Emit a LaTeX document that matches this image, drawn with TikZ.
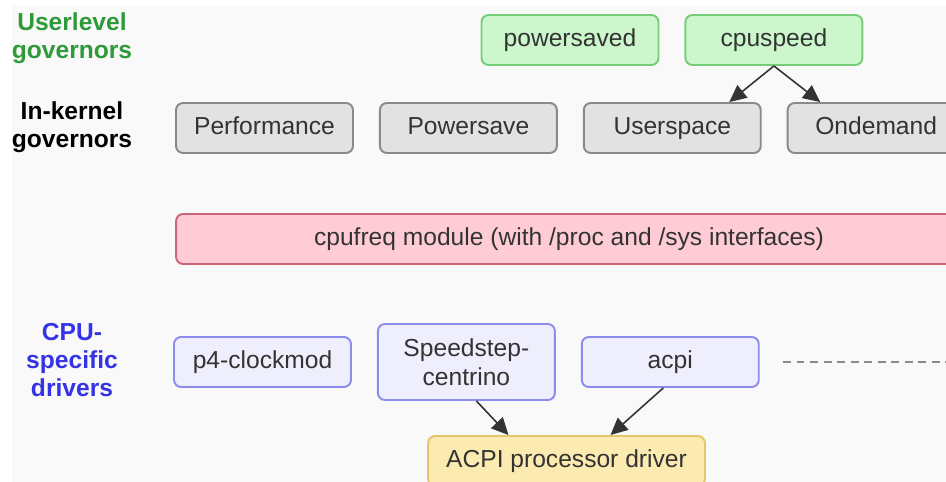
\documentclass[tikz,border=0pt]{standalone}
\usepackage{fontspec}
\setmainfont{Liberation Sans}
\usetikzlibrary{positioning,arrows.meta,calc}
\definecolor{BgGray}{HTML}{F9F9F9}
\definecolor{TxtDark}{HTML}{333333}
\definecolor{UserGreen}{HTML}{2E9A3A}
\definecolor{UserFill}{HTML}{CCF7CC}
\definecolor{UserLine}{HTML}{77CC77}
\definecolor{KernFill}{HTML}{E2E2E2}
\definecolor{KernLine}{HTML}{8A8A8A}
\definecolor{ModFill}{HTML}{FFCCD6}
\definecolor{ModLine}{HTML}{CC6677}
\definecolor{DrvBlue}{HTML}{3434E6}
\definecolor{DrvFill}{HTML}{EEEEFC}
\definecolor{DrvLine}{HTML}{8C8CEE}
\definecolor{AcpiFill}{HTML}{FCEBB0}
\definecolor{AcpiLine}{HTML}{E6C66A}

\begin{document}
\begin{tikzpicture}[
x=0.02cm,y=-0.02cm,
node distance=5mm,
box/.style={rectangle,rounded corners=4pt,line width=1.1pt,text=TxtDark,
minimum width=3.54cm,minimum height=1cm,align=center,
text height=1.9ex,text depth=.5ex,
font=\fontsize{14}{16.5}\selectfont},
userbox/.style={box,draw=UserLine,fill=UserFill},
kernbox/.style={box,draw=KernLine,fill=KernFill},
modbox/.style={box,draw=ModLine,fill=ModFill},
drvbox/.style={box,draw=DrvLine,fill=DrvFill},
acpibox/.style={box,draw=AcpiLine,fill=AcpiFill},
lvl/.style={align=center,font=\fontsize{14}{16}\selectfont\bfseries},
arrow/.style={-{Triangle[length=3.4mm,width=3.2mm]},line width=0.9pt,draw=TxtDark}
]
\useasboundingbox (0,0) rectangle (946,482);
\clip (0,0) rectangle (946,482);
\fill[white] (0,0) rectangle (946,482);
\fill[BgGray] (12,6) rectangle (946,482);

% level labels
\node[lvl,text=UserGreen] (ulbl) at (72,38) {Userlevel\\governors};
\node[lvl,text=black] (klbl) at (72,127) {In-kernel\\governors};
\node[lvl,text=DrvBlue] (dlbl) at (72,360) {CPU-\\specific\\drivers};

% userlevel governors
\node[userbox] (psd) at (570,40) {powersaved};
\node[userbox,right=of psd] (cpus) {cpuspeed};

% in-kernel governors
\node[kernbox] (perf) at (264.5,128) {Performance};
\node[kernbox,right=of perf] (psave) {Powersave};
\node[kernbox,right=of psave] (usp) {Userspace};
\node[kernbox,right=of usp] (ondem) {Ondemand};

% cpufreq core
\node[modbox,minimum width=15.72cm] (cpufreq) at (569,239) {cpufreq module (with /proc and /sys interfaces)};

% drivers
\node[drvbox] (p4) at (262.5,362) {p4-clockmod};
\node[drvbox,minimum height=1.52cm,text height=,text depth=,right=of p4] (sst) {Speedstep-\\centrino};
\node[drvbox,right=of sst] (acpi) {acpi};
\node[acpibox,minimum width=5.54cm] (apd) at (566.5,461) {ACPI processor driver};
\coordinate (dashl) at (783,362);
\coordinate (dashr) at (950,362);

\draw[arrow] (cpus.south) -- ($(usp.north)+(57,0)$);
\draw[arrow] (cpus.south) -- ($(ondem.north)+(-56,0)$);
\draw[arrow] ($(sst.south)+(10,0)$) -- ($(apd.north)+(-58,0)$);
\draw[arrow] ($(acpi.south)+(-7,0)$) -- ($(apd.north)+(44,0)$);
\draw[line width=1.3pt,draw=KernLine,dash pattern=on 4.5pt off 3.2pt] (dashl) -- (dashr);
\end{tikzpicture}
\end{document}
